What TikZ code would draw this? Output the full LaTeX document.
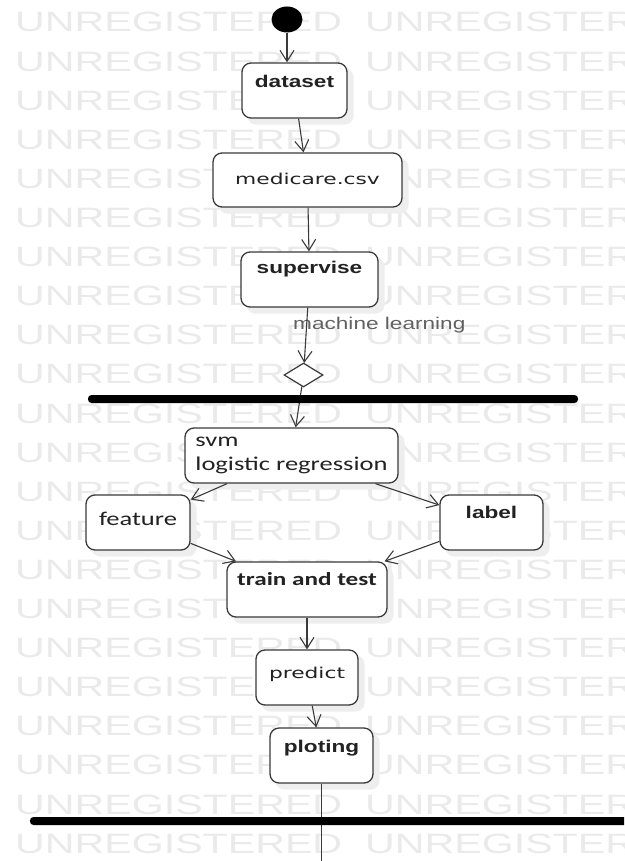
\documentclass[tikz,border=0pt]{standalone}
\usepackage{fontspec}
\usetikzlibrary{arrows.meta,shapes.geometric}

% Wide sans faces used by the activity diagram
\newfontfamily\wmfont[FakeStretch=1.47]{Liberation Sans}
\newfontfamily\arialx[FakeStretch=1.33]{Liberation Sans}
\newfontfamily\calx[FakeStretch=1.36]{Carlito}
\newfontfamily\dejax[FakeStretch=1.45]{DejaVu Sans}

\definecolor{inkline}{HTML}{3A3A3A}
\definecolor{inktext}{HTML}{222222}
\definecolor{wmgray}{HTML}{EAEAEA}
\definecolor{shadowgray}{HTML}{EEEEEE}

\pgfdeclarelayer{back}
\pgfdeclarelayer{shadelayer}
\pgfsetlayers{back,shadelayer,main}

\begin{document}
\begin{tikzpicture}[x=1pt,y=-1pt,
  act/.style={draw=inkline, line width=1.3pt, rounded corners=9pt, fill=white,
    inner xsep=0pt, inner ysep=0pt, text=inktext},
  boldA/.style={font=\arialx\bfseries\fontsize{17}{20}\selectfont},
  plainD/.style={font=\dejax\fontsize{15}{18}\selectfont},
  plainC/.style={font=\calx\fontsize{19.5}{24}\selectfont},
  boldC/.style={font=\calx\bfseries\fontsize{18.5}{23}\selectfont},
  flow/.style={draw=inkline, line width=1.1pt, -{Straight Barb[length=11pt,width=14pt]}},
  wire/.style={draw=inkline, line width=1.1pt},
  bar/.style={fill=black, draw=none, minimum height=8pt, inner sep=0pt, rounded corners=3.5pt},
  wm/.style={text=wmgray, font=\wmfont\fontsize{28}{28}\selectfont, anchor=base west, inner sep=0pt}
]
\useasboundingbox (0,0) rectangle (624,861);

% background watermark rows
\begin{pgfonlayer}{back}
  \begin{scope}
    \clip (0,0) rectangle (624,861);
    \foreach \i in {0,...,21} {
      \node[wm] (wma\i) at (15, 32+39.1*\i) {UNREGISTERED};
      \node[wm] (wmb\i) at (365, 32+39.1*\i) {UNREGISTERED};
    }
  \end{scope}
\end{pgfonlayer}

% initial node
\node[ellipse, fill=black, minimum width=31pt, minimum height=26pt, inner sep=0pt] (start) at (287,19.5) {};

% actions
\node[act, boldA, minimum width=105pt, text height=24.5pt, text depth=30.5pt] (dataset) at (294.5,90.5) {dataset};
\node[act, plainD, minimum width=189pt, text height=32pt, text depth=22pt] (medicare) at (307.5,180) {medicare.csv};
\node[act, boldA, minimum width=137pt, text height=21pt, text depth=34pt] (supervise) at (309.5,279.5) {supervise};
\node[diamond, draw=inkline, line width=1.2pt, fill=white, minimum width=39pt, minimum height=24pt, inner sep=0pt] (decide) at (303.5,375) {};
\node[act, plainC, minimum width=213pt, minimum height=55pt, align=left] (svm) at (291.5,455.5) {svm\\logistic regression};
\node[act, plainC, minimum width=104pt, text height=30pt, text depth=25pt] (feature) at (138,522.5) {feature};
\node[act, boldA, minimum width=103pt, text height=23pt, text depth=32pt] (label) at (491.5,522.5) {label};
\node[act, boldC, minimum width=160pt, text height=23pt, text depth=32pt] (train) at (307,589.5) {train and test};
\node[act, plainD, minimum width=102pt, text height=28pt, text depth=27pt] (predict) at (307,677.5) {predict};
\node[act, boldA, minimum width=103pt, text height=24pt, text depth=31pt] (ploting) at (321.5,755.5) {ploting};

% soft drop shadows behind the action boxes
\begin{pgfonlayer}{shadelayer}
  \foreach \n in {dataset,medicare,supervise,svm,feature,label,train,predict,ploting}
    \path[fill=shadowgray, rounded corners=9pt] ([shift={(6pt,-6pt)}]\n.south west) rectangle ([shift={(6pt,-6pt)}]\n.north east);
\end{pgfonlayer}

% guard text
\node[font=\arialx\fontsize{17}{20}\selectfont, text=black!62, anchor=west, inner sep=0pt] (mlabel) at (293,325) {machine learning};

% control flows
\coordinate (exit) at (321.5,861);
\draw[flow] (start) -- (start |- dataset.north);
\draw[flow] (dataset) -- (medicare);
\draw[flow] (medicare) -- (supervise);
\draw[flow] (supervise) -- (decide);
\draw[flow] (decide) -- (svm);
\draw[flow] (svm) -- (feature);
\draw[flow] (svm) -- (label);
\draw[flow] (feature) -- (train);
\draw[flow] (label) -- (train);
\draw[flow] (train) -- (predict);
\draw[flow] (predict) -- (ploting);
\draw[wire] (ploting) -- (exit);

% fork / join bars
\begin{scope}
  \clip (0,0) rectangle (624,861);
  \node[bar, minimum width=490pt] (fork) at (333,399) {};
  \node[bar, minimum width=620pt] (join) at (340,821) {};
\end{scope}
\end{tikzpicture}
\end{document}
